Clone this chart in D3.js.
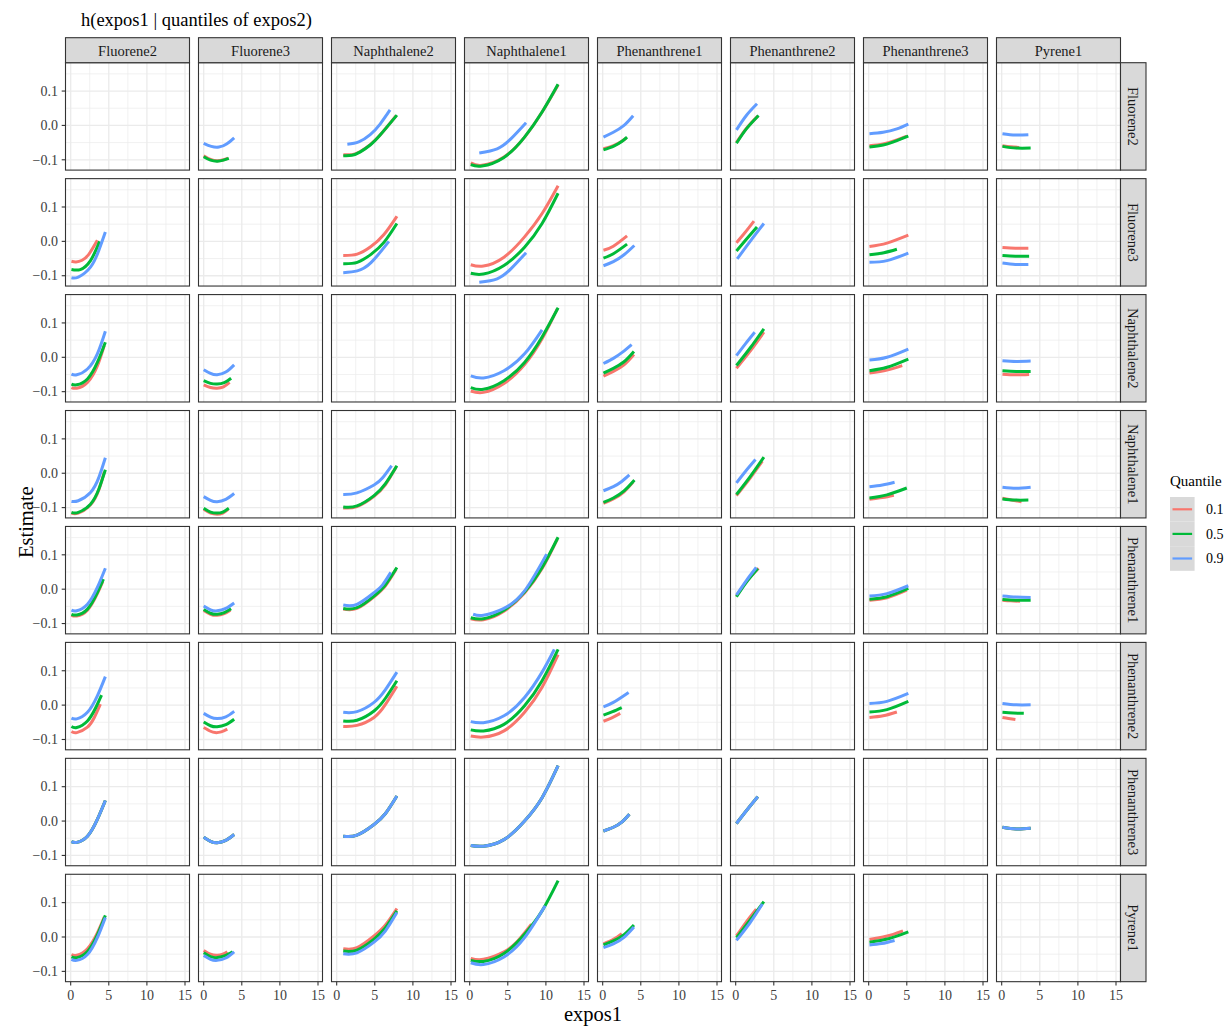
<!DOCTYPE html>
<html>
<head>
<meta charset="utf-8" />
<title>h(expos1 | quantiles of expos2)</title>
<script src="https://cdnjs.cloudflare.com/ajax/libs/d3/7.8.5/d3.min.js"></script>
<style>
body { margin: 0; background: #ffffff; }
svg text { font-family: "Liberation Serif", "DejaVu Serif", serif; }
</style>
</head>
<body>
<svg id="chart" width="1231" height="1026"></svg>
<script>
// facet variables: columns = expos1, rows = expos2
const colVars = ["Fluorene2", "Fluorene3", "Naphthalene2", "Naphthalene1", "Phenanthrene1", "Phenanthrene2", "Phenanthrene3", "Pyrene1"];
const rowVars = ["Fluorene2", "Fluorene3", "Naphthalene2", "Naphthalene1", "Phenanthrene1", "Phenanthrene2", "Phenanthrene3", "Pyrene1"];
const quantiles = ["0.1", "0.5", "0.9"];
const quantileColors = ["#F8766D", "#00BA38", "#619CFF"];
const xTicks = [0, 5, 10, 15];
const xMinor = [2.5, 7.5, 12.5];
const yTicks = [-0.1, 0, 0.1];
const yTickLabels = ["\u22120.1", "0.0", "0.1"];
const yMinor = [-0.05, 0.05, 0.15];

// [row (expos2), column (expos1), quantile, [[expos1, estimate], ...]]
const curves = [
  // row Fluorene2
  ["Fluorene2", "Fluorene3", "0.1", [[0,-0.088],[0.9,-0.099],[1.8,-0.103],[2.6,-0.100],[3.2,-0.095]]],
  ["Fluorene2", "Fluorene3", "0.5", [[0,-0.091],[0.9,-0.101],[1.8,-0.104],[2.6,-0.101],[3.3,-0.096]]],
  ["Fluorene2", "Fluorene3", "0.9", [[0,-0.052],[1,-0.061],[2,-0.063],[3,-0.054],[4,-0.036]]],
  ["Fluorene2", "Naphthalene2", "0.1", [[0.87,-0.085],[2.0,-0.085],[3.1,-0.076],[4.4,-0.056],[5.7,-0.028],[7.8,0.028]]],
  ["Fluorene2", "Naphthalene2", "0.5", [[0.87,-0.088],[2.0,-0.087],[3.1,-0.077],[4.4,-0.057],[5.7,-0.028],[7.9,0.030]]],
  ["Fluorene2", "Naphthalene2", "0.9", [[1.4,-0.055],[2.9,-0.048],[4.4,-0.027],[5.7,0.004],[7.0,0.045]]],
  ["Fluorene2", "Naphthalene1", "0.1", [[0.14,-0.109],[1.6,-0.116],[4.5,-0.092],[7.2,-0.034],[9.5,0.039],[11.6,0.118]]],
  ["Fluorene2", "Naphthalene1", "0.5", [[0.14,-0.114],[1.6,-0.118],[4.5,-0.093],[7.2,-0.034],[9.5,0.039],[11.6,0.120]]],
  ["Fluorene2", "Naphthalene1", "0.9", [[1.26,-0.080],[3.6,-0.068],[5.4,-0.039],[7.4,0.008]]],
  ["Fluorene2", "Phenanthrene1", "0.1", [[0.1,-0.068],[1.4,-0.059],[2.5,-0.046],[3.1,-0.036]]],
  ["Fluorene2", "Phenanthrene1", "0.5", [[0.1,-0.071],[1.4,-0.061],[2.5,-0.047],[3.2,-0.034]]],
  ["Fluorene2", "Phenanthrene1", "0.9", [[0.1,-0.034],[1.4,-0.020],[2.8,0.000],[4.0,0.028]]],
  ["Fluorene2", "Phenanthrene2", "0.1", [[0.1,-0.050],[1.4,-0.009],[2.9,0.027]]],
  ["Fluorene2", "Phenanthrene2", "0.5", [[0.1,-0.052],[1.4,-0.010],[3.0,0.029]]],
  ["Fluorene2", "Phenanthrene2", "0.9", [[0.1,-0.013],[1.4,0.029],[2.8,0.063]]],
  ["Fluorene2", "Phenanthrene3", "0.1", [[0.1,-0.059],[1.9,-0.054],[3.7,-0.042],[5.0,-0.031]]],
  ["Fluorene2", "Phenanthrene3", "0.5", [[0.1,-0.063],[1.9,-0.057],[3.7,-0.044],[5.2,-0.031]]],
  ["Fluorene2", "Phenanthrene3", "0.9", [[0.1,-0.024],[1.9,-0.020],[3.7,-0.010],[5.2,0.004]]],
  ["Fluorene2", "Pyrene1", "0.1", [[0.1,-0.059],[1.2,-0.062],[2.3,-0.064]]],
  ["Fluorene2", "Pyrene1", "0.5", [[0.1,-0.061],[1.9,-0.066],[3.8,-0.066]]],
  ["Fluorene2", "Pyrene1", "0.9", [[0.1,-0.024],[1.8,-0.028],[3.5,-0.027]]],
  // row Fluorene3
  ["Fluorene3", "Fluorene2", "0.1", [[0.1,-0.058],[0.7,-0.060],[1.5,-0.055],[2.4,-0.037],[3.5,0.003]]],
  ["Fluorene3", "Fluorene2", "0.5", [[0.1,-0.082],[1.26,-0.082],[2.6,-0.056],[3.8,0.000]]],
  ["Fluorene3", "Fluorene2", "0.9", [[0.1,-0.106],[1.0,-0.104],[2.6,-0.075],[3.7,-0.026],[4.55,0.027]]],
  ["Fluorene3", "Naphthalene2", "0.1", [[0.86,-0.041],[2.7,-0.037],[4.5,-0.015],[6.2,0.020],[7.9,0.073]]],
  ["Fluorene3", "Naphthalene2", "0.5", [[0.86,-0.065],[2.7,-0.061],[4.5,-0.038],[6.2,-0.003],[7.9,0.052]]],
  ["Fluorene3", "Naphthalene2", "0.9", [[0.86,-0.091],[2.7,-0.086],[4.5,-0.062],[6.85,0.000]]],
  ["Fluorene3", "Naphthalene1", "0.1", [[0.14,-0.068],[1.8,-0.072],[4.5,-0.046],[7.2,0.013],[9.5,0.081],[11.6,0.162]]],
  ["Fluorene3", "Naphthalene1", "0.5", [[0.14,-0.093],[1.8,-0.095],[4.5,-0.070],[7.2,-0.017],[9.5,0.052],[11.6,0.140]]],
  ["Fluorene3", "Naphthalene1", "0.9", [[1.26,-0.119],[3.6,-0.109],[5.4,-0.080],[7.4,-0.033]]],
  ["Fluorene3", "Phenanthrene1", "0.1", [[0.1,-0.026],[1.4,-0.014],[3.2,0.016]]],
  ["Fluorene3", "Phenanthrene1", "0.5", [[0.1,-0.049],[1.4,-0.036],[3.2,-0.008]]],
  ["Fluorene3", "Phenanthrene1", "0.9", [[0.1,-0.071],[1.4,-0.059],[2.8,-0.039],[4.15,-0.012]]],
  ["Fluorene3", "Phenanthrene2", "0.1", [[0.1,-0.004],[1.2,0.025],[2.4,0.059]]],
  ["Fluorene3", "Phenanthrene2", "0.5", [[0.1,-0.028],[1.4,0.006],[2.8,0.042]]],
  ["Fluorene3", "Phenanthrene2", "0.9", [[0.2,-0.051],[1.9,0.000],[3.7,0.052]]],
  ["Fluorene3", "Phenanthrene3", "0.1", [[0.1,-0.015],[2.4,-0.005],[5.2,0.018]]],
  ["Fluorene3", "Phenanthrene3", "0.5", [[0.1,-0.039],[2.0,-0.033],[3.7,-0.023]]],
  ["Fluorene3", "Phenanthrene3", "0.9", [[0.1,-0.061],[2.4,-0.056],[5.2,-0.034]]],
  ["Fluorene3", "Pyrene1", "0.1", [[0.1,-0.018],[1.8,-0.020],[3.5,-0.020]]],
  ["Fluorene3", "Pyrene1", "0.5", [[0.1,-0.041],[1.8,-0.043],[3.6,-0.043]]],
  ["Fluorene3", "Pyrene1", "0.9", [[0.1,-0.063],[1.8,-0.067],[3.5,-0.067]]],
  // row Naphthalene2
  ["Naphthalene2", "Fluorene2", "0.1", [[0.1,-0.088],[0.8,-0.090],[2.2,-0.073],[3.5,-0.025],[4.4,0.034]]],
  ["Naphthalene2", "Fluorene2", "0.5", [[0.1,-0.078],[0.8,-0.080],[2.2,-0.063],[3.5,-0.015],[4.55,0.044]]],
  ["Naphthalene2", "Fluorene2", "0.9", [[0.1,-0.049],[0.8,-0.051],[2.2,-0.034],[3.5,0.010],[4.55,0.076]]],
  ["Naphthalene2", "Fluorene3", "0.1", [[0,-0.080],[0.9,-0.088],[1.76,-0.090],[2.6,-0.086],[3.4,-0.073]]],
  ["Naphthalene2", "Fluorene3", "0.5", [[0,-0.068],[0.9,-0.076],[1.76,-0.078],[2.7,-0.074],[3.6,-0.061]]],
  ["Naphthalene2", "Fluorene3", "0.9", [[0,-0.036],[0.9,-0.047],[1.76,-0.051],[2.9,-0.043],[4.0,-0.022]]],
  ["Naphthalene2", "Naphthalene1", "0.1", [[0.14,-0.098],[1.8,-0.102],[4.5,-0.076],[7.2,-0.021],[9.5,0.054],[11.5,0.141]]],
  ["Naphthalene2", "Naphthalene1", "0.5", [[0.14,-0.088],[1.8,-0.093],[4.5,-0.068],[7.2,-0.015],[9.5,0.059],[11.6,0.144]]],
  ["Naphthalene2", "Naphthalene1", "0.9", [[0.14,-0.054],[1.8,-0.060],[4.5,-0.039],[7.2,0.010],[9.5,0.080]]],
  ["Naphthalene2", "Phenanthrene1", "0.1", [[0.1,-0.055],[1.4,-0.041],[2.8,-0.022],[4.1,0.008]]],
  ["Naphthalene2", "Phenanthrene1", "0.5", [[0.1,-0.046],[1.4,-0.032],[2.8,-0.013],[4.1,0.017]]],
  ["Naphthalene2", "Phenanthrene1", "0.9", [[0.1,-0.018],[1.4,-0.003],[2.6,0.015],[3.8,0.037]]],
  ["Naphthalene2", "Phenanthrene2", "0.1", [[0.1,-0.032],[1.9,0.018],[3.7,0.073]]],
  ["Naphthalene2", "Phenanthrene2", "0.5", [[0.1,-0.024],[1.9,0.027],[3.7,0.083]]],
  ["Naphthalene2", "Phenanthrene2", "0.9", [[0.1,0.005],[1.3,0.040],[2.5,0.073]]],
  ["Naphthalene2", "Phenanthrene3", "0.1", [[0.1,-0.046],[2.4,-0.037],[4.4,-0.024]]],
  ["Naphthalene2", "Phenanthrene3", "0.5", [[0.1,-0.039],[2.4,-0.029],[5.2,-0.005]]],
  ["Naphthalene2", "Phenanthrene3", "0.9", [[0.1,-0.008],[2.4,0.000],[5.2,0.024]]],
  ["Naphthalene2", "Pyrene1", "0.1", [[0.1,-0.049],[1.8,-0.051],[3.6,-0.050]]],
  ["Naphthalene2", "Pyrene1", "0.5", [[0.1,-0.039],[1.9,-0.041],[3.8,-0.041]]],
  ["Naphthalene2", "Pyrene1", "0.9", [[0.1,-0.010],[1.9,-0.012],[3.8,-0.011]]],
  // row Naphthalene1
  ["Naphthalene1", "Fluorene2", "0.1", [[0.1,-0.116],[1.0,-0.116],[2.6,-0.092],[3.7,-0.048],[4.4,0.003]]],
  ["Naphthalene1", "Fluorene2", "0.5", [[0.1,-0.114],[1.0,-0.114],[2.6,-0.090],[3.7,-0.046],[4.55,0.010]]],
  ["Naphthalene1", "Fluorene2", "0.9", [[0.1,-0.082],[1.0,-0.080],[2.6,-0.056],[3.7,-0.012],[4.55,0.045]]],
  ["Naphthalene1", "Fluorene3", "0.1", [[0,-0.105],[0.9,-0.116],[1.76,-0.119],[2.5,-0.116],[3.2,-0.105]]],
  ["Naphthalene1", "Fluorene3", "0.5", [[0,-0.102],[0.9,-0.113],[1.76,-0.116],[2.5,-0.113],[3.3,-0.102]]],
  ["Naphthalene1", "Fluorene3", "0.9", [[0,-0.068],[0.9,-0.079],[1.76,-0.083],[2.9,-0.076],[4.0,-0.059]]],
  ["Naphthalene1", "Naphthalene2", "0.1", [[0.86,-0.101],[2.66,-0.097],[4.9,-0.067],[6.4,-0.033],[7.8,0.018]]],
  ["Naphthalene1", "Naphthalene2", "0.5", [[0.86,-0.098],[2.66,-0.095],[4.9,-0.065],[6.4,-0.030],[7.9,0.022]]],
  ["Naphthalene1", "Naphthalene2", "0.9", [[0.86,-0.062],[2.66,-0.057],[4.9,-0.034],[6.0,-0.014],[7.2,0.022]]],
  ["Naphthalene1", "Phenanthrene1", "0.1", [[0.1,-0.088],[1.4,-0.075],[2.8,-0.054],[4.0,-0.025]]],
  ["Naphthalene1", "Phenanthrene1", "0.5", [[0.1,-0.085],[1.4,-0.072],[2.8,-0.051],[4.15,-0.020]]],
  ["Naphthalene1", "Phenanthrene1", "0.9", [[0.1,-0.051],[1.4,-0.039],[2.5,-0.024],[3.5,-0.005]]],
  ["Naphthalene1", "Phenanthrene2", "0.1", [[0.1,-0.065],[1.9,-0.014],[3.5,0.035]]],
  ["Naphthalene1", "Phenanthrene2", "0.5", [[0.1,-0.062],[1.9,-0.010],[3.7,0.047]]],
  ["Naphthalene1", "Phenanthrene2", "0.9", [[0.1,-0.028],[1.3,0.006],[2.6,0.040]]],
  ["Naphthalene1", "Phenanthrene3", "0.1", [[0.1,-0.076],[1.8,-0.071],[3.3,-0.064]]],
  ["Naphthalene1", "Phenanthrene3", "0.5", [[0.1,-0.072],[2.4,-0.063],[5.0,-0.043]]],
  ["Naphthalene1", "Phenanthrene3", "0.9", [[0.1,-0.039],[1.8,-0.034],[3.4,-0.026]]],
  ["Naphthalene1", "Pyrene1", "0.1", [[0.1,-0.073],[1.3,-0.078],[2.6,-0.083]]],
  ["Naphthalene1", "Pyrene1", "0.5", [[0.1,-0.075],[1.7,-0.078],[3.5,-0.078]]],
  ["Naphthalene1", "Pyrene1", "0.9", [[0.1,-0.041],[1.9,-0.044],[3.8,-0.041]]],
  // row Phenanthrene1
  ["Phenanthrene1", "Fluorene2", "0.1", [[0.1,-0.076],[0.8,-0.078],[2.2,-0.061],[3.5,-0.013],[4.2,0.022]]],
  ["Phenanthrene1", "Fluorene2", "0.5", [[0.1,-0.073],[0.8,-0.075],[2.2,-0.058],[3.5,-0.010],[4.3,0.029]]],
  ["Phenanthrene1", "Fluorene2", "0.9", [[0.1,-0.061],[0.8,-0.063],[2.2,-0.044],[3.5,0.005],[4.55,0.061]]],
  ["Phenanthrene1", "Fluorene3", "0.1", [[0,-0.062],[0.9,-0.073],[1.76,-0.076],[2.7,-0.071],[3.5,-0.061]]],
  ["Phenanthrene1", "Fluorene3", "0.5", [[0,-0.059],[0.9,-0.070],[1.76,-0.073],[2.7,-0.068],[3.6,-0.057]]],
  ["Phenanthrene1", "Fluorene3", "0.9", [[0,-0.049],[0.9,-0.060],[1.76,-0.063],[2.9,-0.056],[4.0,-0.040]]],
  ["Phenanthrene1", "Naphthalene2", "0.1", [[0.86,-0.058],[2.66,-0.056],[4.9,-0.022],[6.4,0.010],[7.8,0.058]]],
  ["Phenanthrene1", "Naphthalene2", "0.5", [[0.86,-0.056],[2.66,-0.054],[4.9,-0.020],[6.4,0.013],[7.9,0.063]]],
  ["Phenanthrene1", "Naphthalene2", "0.9", [[0.86,-0.046],[2.66,-0.044],[4.9,-0.010],[6.0,0.012],[7.1,0.049]]],
  ["Phenanthrene1", "Naphthalene1", "0.1", [[0.14,-0.086],[1.8,-0.089],[4.5,-0.064],[7.2,-0.011],[9.5,0.060],[11.5,0.146]]],
  ["Phenanthrene1", "Naphthalene1", "0.5", [[0.14,-0.083],[1.8,-0.086],[4.5,-0.061],[7.2,-0.008],[9.5,0.063],[11.6,0.151]]],
  ["Phenanthrene1", "Naphthalene1", "0.9", [[0.45,-0.073],[1.8,-0.076],[4.5,-0.056],[7.2,-0.005],[10.1,0.102]]],
  ["Phenanthrene1", "Phenanthrene2", "0.1", [[0.1,-0.020],[1.4,0.022],[3.0,0.061]]],
  ["Phenanthrene1", "Phenanthrene2", "0.5", [[0.1,-0.022],[1.4,0.020],[2.9,0.060]]],
  ["Phenanthrene1", "Phenanthrene2", "0.9", [[0.1,-0.017],[1.4,0.025],[2.7,0.063]]],
  ["Phenanthrene1", "Phenanthrene3", "0.1", [[0.1,-0.032],[2.4,-0.025],[5.0,-0.003]]],
  ["Phenanthrene1", "Phenanthrene3", "0.5", [[0.1,-0.029],[2.4,-0.022],[5.2,0.002]]],
  ["Phenanthrene1", "Phenanthrene3", "0.9", [[0.1,-0.020],[2.4,-0.013],[5.2,0.010]]],
  ["Phenanthrene1", "Pyrene1", "0.1", [[0.1,-0.032],[1.2,-0.034],[2.4,-0.035]]],
  ["Phenanthrene1", "Pyrene1", "0.5", [[0.1,-0.030],[1.9,-0.032],[3.8,-0.032]]],
  ["Phenanthrene1", "Pyrene1", "0.9", [[0.1,-0.020],[1.9,-0.023],[3.8,-0.024]]],
  // row Phenanthrene2
  ["Phenanthrene2", "Fluorene2", "0.1", [[0.1,-0.077],[0.8,-0.080],[2.2,-0.064],[3.1,-0.036],[3.9,0.003]]],
  ["Phenanthrene2", "Fluorene2", "0.5", [[0.1,-0.062],[0.8,-0.065],[2.2,-0.046],[3.3,-0.007],[4.05,0.029]]],
  ["Phenanthrene2", "Fluorene2", "0.9", [[0.1,-0.038],[0.8,-0.040],[2.2,-0.021],[3.5,0.027],[4.55,0.083]]],
  ["Phenanthrene2", "Fluorene3", "0.1", [[0,-0.065],[0.9,-0.076],[1.5,-0.080],[2.3,-0.078],[3.1,-0.070]]],
  ["Phenanthrene2", "Fluorene3", "0.5", [[0,-0.049],[0.9,-0.060],[1.76,-0.063],[2.9,-0.057],[4.0,-0.041]]],
  ["Phenanthrene2", "Fluorene3", "0.9", [[0,-0.024],[0.9,-0.035],[1.76,-0.039],[2.9,-0.034],[4.0,-0.018]]],
  ["Phenanthrene2", "Naphthalene2", "0.1", [[0.86,-0.062],[2.66,-0.059],[4.9,-0.036],[6.4,0.002],[7.9,0.055]]],
  ["Phenanthrene2", "Naphthalene2", "0.5", [[0.86,-0.046],[2.66,-0.044],[4.9,-0.017],[6.4,0.020],[7.9,0.071]]],
  ["Phenanthrene2", "Naphthalene2", "0.9", [[0.86,-0.021],[2.66,-0.019],[4.9,0.008],[6.4,0.045],[7.9,0.096]]],
  ["Phenanthrene2", "Naphthalene1", "0.1", [[0.14,-0.090],[1.8,-0.093],[4.5,-0.075],[7.2,-0.021],[9.5,0.052],[11.6,0.147]]],
  ["Phenanthrene2", "Naphthalene1", "0.5", [[0.14,-0.072],[1.8,-0.075],[4.5,-0.056],[7.2,-0.002],[9.5,0.071],[11.6,0.162]]],
  ["Phenanthrene2", "Naphthalene1", "0.9", [[0.14,-0.048],[1.8,-0.051],[4.5,-0.031],[7.2,0.022],[9.5,0.096],[11.1,0.162]]],
  ["Phenanthrene2", "Phenanthrene1", "0.1", [[0.1,-0.047],[1.2,-0.037],[2.3,-0.024]]],
  ["Phenanthrene2", "Phenanthrene1", "0.5", [[0.1,-0.029],[1.3,-0.019],[2.5,-0.007]]],
  ["Phenanthrene2", "Phenanthrene1", "0.9", [[0.1,-0.005],[1.4,0.008],[3.4,0.037]]],
  ["Phenanthrene2", "Phenanthrene3", "0.1", [[0.1,-0.036],[1.9,-0.031],[3.7,-0.020]]],
  ["Phenanthrene2", "Phenanthrene3", "0.5", [[0.1,-0.020],[2.4,-0.013],[5.2,0.011]]],
  ["Phenanthrene2", "Phenanthrene3", "0.9", [[0.1,0.005],[2.4,0.011],[5.2,0.034]]],
  ["Phenanthrene2", "Pyrene1", "0.1", [[0.1,-0.036],[0.9,-0.039],[1.8,-0.042]]],
  ["Phenanthrene2", "Pyrene1", "0.5", [[0.1,-0.021],[1.5,-0.023],[2.9,-0.024]]],
  ["Phenanthrene2", "Pyrene1", "0.9", [[0.1,0.005],[1.9,0.001],[3.8,0.001]]],
  // row Phenanthrene3 (the three quantiles coincide)
  ["Phenanthrene3", "Fluorene2", "0.1", [[0.1,-0.060],[0.8,-0.062],[2.2,-0.044],[3.5,0.005],[4.55,0.060]]],
  ["Phenanthrene3", "Fluorene2", "0.5", [[0.1,-0.060],[0.8,-0.062],[2.2,-0.044],[3.5,0.005],[4.55,0.060]]],
  ["Phenanthrene3", "Fluorene2", "0.9", [[0.1,-0.060],[0.8,-0.062],[2.2,-0.044],[3.5,0.005],[4.55,0.060]]],
  ["Phenanthrene3", "Fluorene3", "0.1", [[0,-0.047],[0.9,-0.059],[1.76,-0.063],[2.9,-0.056],[4.0,-0.039]]],
  ["Phenanthrene3", "Fluorene3", "0.5", [[0,-0.047],[0.9,-0.059],[1.76,-0.063],[2.9,-0.056],[4.0,-0.039]]],
  ["Phenanthrene3", "Fluorene3", "0.9", [[0,-0.047],[0.9,-0.059],[1.76,-0.063],[2.9,-0.056],[4.0,-0.039]]],
  ["Phenanthrene3", "Naphthalene2", "0.1", [[0.86,-0.044],[2.66,-0.041],[4.9,-0.010],[6.4,0.022],[7.9,0.073]]],
  ["Phenanthrene3", "Naphthalene2", "0.5", [[0.86,-0.044],[2.66,-0.041],[4.9,-0.010],[6.4,0.022],[7.9,0.073]]],
  ["Phenanthrene3", "Naphthalene2", "0.9", [[0.86,-0.044],[2.66,-0.041],[4.9,-0.010],[6.4,0.022],[7.9,0.073]]],
  ["Phenanthrene3", "Naphthalene1", "0.1", [[0.14,-0.071],[1.8,-0.073],[4.5,-0.054],[7.2,0.000],[9.5,0.068],[11.6,0.161]]],
  ["Phenanthrene3", "Naphthalene1", "0.5", [[0.14,-0.071],[1.8,-0.073],[4.5,-0.054],[7.2,0.000],[9.5,0.068],[11.6,0.161]]],
  ["Phenanthrene3", "Naphthalene1", "0.9", [[0.14,-0.071],[1.8,-0.073],[4.5,-0.054],[7.2,0.000],[9.5,0.068],[11.6,0.161]]],
  ["Phenanthrene3", "Phenanthrene1", "0.1", [[0.1,-0.029],[1.4,-0.018],[2.5,-0.003],[3.5,0.020]]],
  ["Phenanthrene3", "Phenanthrene1", "0.5", [[0.1,-0.029],[1.4,-0.018],[2.5,-0.003],[3.5,0.020]]],
  ["Phenanthrene3", "Phenanthrene1", "0.9", [[0.1,-0.029],[1.4,-0.018],[2.5,-0.003],[3.5,0.020]]],
  ["Phenanthrene3", "Phenanthrene2", "0.1", [[0.1,-0.007],[1.4,0.030],[2.9,0.071]]],
  ["Phenanthrene3", "Phenanthrene2", "0.5", [[0.1,-0.007],[1.4,0.030],[2.9,0.071]]],
  ["Phenanthrene3", "Phenanthrene2", "0.9", [[0.1,-0.007],[1.4,0.030],[2.9,0.071]]],
  ["Phenanthrene3", "Pyrene1", "0.1", [[0.1,-0.018],[1.9,-0.023],[3.8,-0.021]]],
  ["Phenanthrene3", "Pyrene1", "0.5", [[0.1,-0.018],[1.9,-0.023],[3.8,-0.021]]],
  ["Phenanthrene3", "Pyrene1", "0.9", [[0.1,-0.018],[1.9,-0.023],[3.8,-0.021]]],
  // row Pyrene1
  ["Pyrene1", "Fluorene2", "0.1", [[0.1,-0.051],[0.8,-0.053],[2.2,-0.034],[3.5,0.012],[4.4,0.058]]],
  ["Pyrene1", "Fluorene2", "0.5", [[0.1,-0.058],[0.8,-0.060],[2.2,-0.042],[3.5,0.006],[4.55,0.063]]],
  ["Pyrene1", "Fluorene2", "0.9", [[0.1,-0.065],[0.8,-0.068],[2.2,-0.051],[3.5,-0.002],[4.55,0.057]]],
  ["Pyrene1", "Fluorene3", "0.1", [[0,-0.039],[0.9,-0.050],[1.76,-0.053],[2.5,-0.050],[3.1,-0.043]]],
  ["Pyrene1", "Fluorene3", "0.5", [[0,-0.046],[0.9,-0.057],[1.76,-0.060],[2.7,-0.055],[3.8,-0.043]]],
  ["Pyrene1", "Fluorene3", "0.9", [[0,-0.054],[0.9,-0.065],[1.76,-0.068],[2.9,-0.061],[4.0,-0.043]]],
  ["Pyrene1", "Naphthalene2", "0.1", [[0.86,-0.034],[2.66,-0.031],[4.9,0.003],[6.4,0.035],[7.9,0.083]]],
  ["Pyrene1", "Naphthalene2", "0.5", [[0.86,-0.041],[2.66,-0.038],[4.9,-0.006],[6.4,0.027],[7.9,0.076]]],
  ["Pyrene1", "Naphthalene2", "0.9", [[0.86,-0.049],[2.66,-0.046],[4.9,-0.015],[6.4,0.018],[7.9,0.071]]],
  ["Pyrene1", "Naphthalene1", "0.1", [[0.14,-0.062],[1.8,-0.065],[4.5,-0.043],[6.3,-0.012],[8.1,0.037]]],
  ["Pyrene1", "Naphthalene1", "0.5", [[0.14,-0.068],[1.8,-0.071],[4.5,-0.048],[7.2,0.008],[9.5,0.076],[11.6,0.164]]],
  ["Pyrene1", "Naphthalene1", "0.9", [[0.14,-0.075],[1.8,-0.080],[4.5,-0.058],[7.2,-0.002],[9.9,0.091]]],
  ["Pyrene1", "Phenanthrene1", "0.1", [[0.1,-0.020],[1.4,-0.007],[2.5,0.010]]],
  ["Pyrene1", "Phenanthrene1", "0.5", [[0.1,-0.023],[1.4,-0.011],[2.8,0.007],[4.1,0.035]]],
  ["Pyrene1", "Phenanthrene1", "0.9", [[0.1,-0.031],[1.4,-0.020],[2.8,-0.001],[4.1,0.029]]],
  ["Pyrene1", "Phenanthrene2", "0.1", [[0.1,0.003],[1.4,0.044],[2.7,0.081]]],
  ["Pyrene1", "Phenanthrene2", "0.5", [[0.1,-0.002],[1.9,0.050],[3.7,0.103]]],
  ["Pyrene1", "Phenanthrene2", "0.9", [[0.1,-0.010],[1.9,0.042],[3.5,0.096]]],
  ["Pyrene1", "Phenanthrene3", "0.1", [[0.1,-0.007],[2.3,0.002],[4.5,0.018]]],
  ["Pyrene1", "Phenanthrene3", "0.5", [[0.1,-0.015],[2.6,-0.005],[5.2,0.015]]],
  ["Pyrene1", "Phenanthrene3", "0.9", [[0.1,-0.023],[1.7,-0.019],[3.4,-0.010]]]
];

// layout of the facet grid
const panelLeft = 65.5, panelTop = 62.7;
const panelW = 124, panelH = 107.4;
const colStep = 133, rowStep = 115.94;
const stripH = 25, stripW = 25.5;

const svg = d3.select("#chart");

const x = d3.scaleLinear().domain([-0.68, 15.59]).range([0, panelW]);
const y = d3.scaleLinear().domain([-0.130, 0.1825]).range([panelH, 0]);

const line = d3.line()
  .x(d => x(d[0]))
  .y(d => y(d[1]))
  .curve(d3.curveNatural);

// title
svg.append("text")
  .attr("x", 81).attr("y", 26)
  .attr("font-size", 18.5)
  .attr("fill", "#000")
  .text("h(expos1 | quantiles of expos2)");

rowVars.forEach((rv, ri) => {
  colVars.forEach((cv, ci) => {
    const px = panelLeft + ci * colStep;
    const py = panelTop + ri * rowStep;
    const g = svg.append("g").attr("transform", `translate(${px},${py})`);

    g.append("rect").attr("width", panelW).attr("height", panelH).attr("fill", "#fff");

    // grid
    g.selectAll(".vminor").data(xMinor).enter().append("line")
      .attr("x1", d => x(d)).attr("x2", d => x(d))
      .attr("y1", 0).attr("y2", panelH)
      .attr("stroke", "#ebebeb").attr("stroke-width", 0.7);
    g.selectAll(".hminor").data(yMinor).enter().append("line")
      .attr("x1", 0).attr("x2", panelW)
      .attr("y1", d => y(d)).attr("y2", d => y(d))
      .attr("stroke", "#ebebeb").attr("stroke-width", 0.7);
    g.selectAll(".vmajor").data(xTicks).enter().append("line")
      .attr("x1", d => x(d)).attr("x2", d => x(d))
      .attr("y1", 0).attr("y2", panelH)
      .attr("stroke", "#ebebeb").attr("stroke-width", 1.3);
    g.selectAll(".hmajor").data(yTicks).enter().append("line")
      .attr("x1", 0).attr("x2", panelW)
      .attr("y1", d => y(d)).attr("y2", d => y(d))
      .attr("stroke", "#ebebeb").attr("stroke-width", 1.3);

    // curves, drawn 0.1 -> 0.5 -> 0.9
    const these = curves.filter(c => c[0] === rv && c[1] === cv)
      .sort((a, b) => quantiles.indexOf(a[2]) - quantiles.indexOf(b[2]));
    these.forEach(c => {
      g.append("path")
        .attr("d", line(c[3]))
        .attr("fill", "none")
        .attr("stroke", quantileColors[quantiles.indexOf(c[2])])
        .attr("stroke-width", 3);
    });

    g.append("rect").attr("width", panelW).attr("height", panelH)
      .attr("fill", "none").attr("stroke", "#333333").attr("stroke-width", 1.1);

    // left axis
    if (ci === 0) {
      const ya = g.append("g");
      yTicks.forEach((t, i) => {
        ya.append("line").attr("x1", -3.8).attr("x2", 0)
          .attr("y1", y(t)).attr("y2", y(t))
          .attr("stroke", "#333333").attr("stroke-width", 1.1);
        ya.append("text").attr("x", -7.5).attr("y", y(t)).attr("dy", "0.34em")
          .attr("text-anchor", "end").attr("font-size", 14).attr("fill", "#404040")
          .text(yTickLabels[i]);
      });
    }
    // bottom axis
    if (ri === rowVars.length - 1) {
      const xa = g.append("g");
      xTicks.forEach(t => {
        xa.append("line").attr("x1", x(t)).attr("x2", x(t))
          .attr("y1", panelH).attr("y2", panelH + 3.8)
          .attr("stroke", "#333333").attr("stroke-width", 1.1);
        xa.append("text").attr("x", x(t)).attr("y", panelH + 18.5)
          .attr("text-anchor", "middle").attr("font-size", 14).attr("fill", "#404040")
          .text(t);
      });
    }
    // top strip
    if (ri === 0) {
      g.append("rect").attr("x", 0).attr("y", -stripH).attr("width", panelW).attr("height", stripH)
        .attr("fill", "#d9d9d9").attr("stroke", "#333333").attr("stroke-width", 1.1);
      g.append("text").attr("x", panelW / 2).attr("y", -6.5)
        .attr("text-anchor", "middle").attr("font-size", 14.5).attr("fill", "#1a1a1a")
        .text(cv);
    }
    // right strip
    if (ci === colVars.length - 1) {
      g.append("rect").attr("x", panelW).attr("y", 0).attr("width", stripW).attr("height", panelH)
        .attr("fill", "#d9d9d9").attr("stroke", "#333333").attr("stroke-width", 1.1);
      g.append("text")
        .attr("transform", `translate(${panelW + 7.5},${panelH / 2}) rotate(90)`)
        .attr("text-anchor", "middle").attr("font-size", 14.5).attr("fill", "#1a1a1a")
        .text(rv);
    }
  });
});

// axis titles
const gridRight = panelLeft + (colVars.length - 1) * colStep + panelW;
const gridBottom = panelTop + (rowVars.length - 1) * rowStep + panelH;
svg.append("text")
  .attr("x", (panelLeft + gridRight) / 2).attr("y", 1021)
  .attr("text-anchor", "middle").attr("font-size", 20.5).attr("fill", "#000")
  .text("expos1");
svg.append("text")
  .attr("transform", `translate(33,${(panelTop + gridBottom) / 2}) rotate(-90)`)
  .attr("text-anchor", "middle").attr("font-size", 20.5).attr("fill", "#000")
  .text("Estimate");

// legend
const legend = svg.append("g").attr("transform", "translate(1170,486)");
legend.append("text").attr("x", 0).attr("y", 0)
  .attr("font-size", 15).attr("fill", "#000").text("Quantile");
const keySize = 24.6;
quantiles.forEach((q, i) => {
  const ky = 11 + i * keySize;
  legend.append("rect").attr("x", 0).attr("y", ky).attr("width", keySize).attr("height", keySize)
    .attr("fill", "#d9d9d9");
  legend.append("line").attr("x1", 2.5).attr("x2", keySize - 2.5)
    .attr("y1", ky + keySize / 2).attr("y2", ky + keySize / 2)
    .attr("stroke", quantileColors[i]).attr("stroke-width", 2.2);
  legend.append("text").attr("x", 36).attr("y", ky + keySize / 2).attr("dy", "0.34em")
    .attr("font-size", 14).attr("fill", "#000").text(q);
});
</script>
</body>
</html>
